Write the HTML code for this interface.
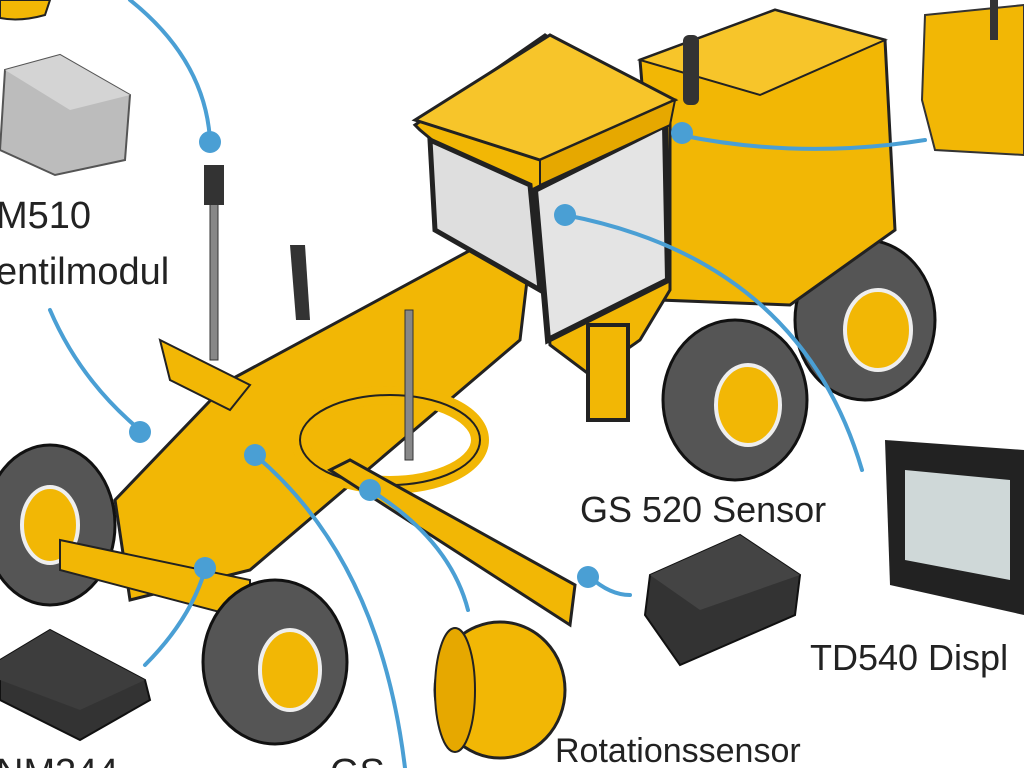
<!DOCTYPE html>
<html><head><meta charset="utf-8"><style>
html,body{margin:0;padding:0;background:#fff;width:1024px;height:768px;overflow:hidden}
svg{display:block}
text{font-family:"Liberation Sans","DejaVu Sans",sans-serif;fill:#222}
</style></head><body>
<svg width="1024" height="768" viewBox="0 0 1024 768" xmlns="http://www.w3.org/2000/svg">
<rect width="1024" height="768" fill="#fff"/>
<!-- top-left items -->
<path d="M0 0 H50 L45 15 Q20 22 0 18Z" fill="#f2b705" stroke="#222" stroke-width="2"/>
<path d="M5 70 L60 55 L130 95 L125 160 L55 175 L0 150Z" fill="#bcbcbc" stroke="#555" stroke-width="2"/>
<path d="M5 70 L60 55 L130 95 L70 110Z" fill="#d4d4d4"/>
<text x="-4" y="228" font-size="38">M510</text>
<text x="-4" y="284" font-size="38">entilmodul</text>
<!-- antenna -->
<rect x="210" y="170" width="8" height="190" fill="#888" stroke="#333"/>
<rect x="204" y="165" width="20" height="40" fill="#333"/>
<!-- rear wheels -->
<ellipse cx="865" cy="320" rx="70" ry="80" fill="#555" stroke="#111" stroke-width="3"/>
<ellipse cx="878" cy="330" rx="33" ry="40" fill="#f2b705" stroke="#eee" stroke-width="4"/>
<!-- engine box -->
<path d="M640 60 L775 10 L885 40 L895 230 L790 305 L660 300Z" fill="#f2b705" stroke="#222" stroke-width="3"/>
<path d="M640 60 L775 10 L885 40 L760 95Z" fill="#f7c52a" stroke="#222" stroke-width="2"/>
<rect x="683" y="35" width="16" height="70" rx="6" fill="#333"/>
<!-- front frame -->
<path d="M115 500 L130 600 L250 570 L520 340 L530 255 L480 245 L230 380 Z" fill="#f2b705" stroke="#222" stroke-width="3"/>
<path d="M160 340 L250 385 L230 410 L170 380Z" fill="#f2b705" stroke="#222" stroke-width="2"/>
<path d="M290 245 L305 245 L310 320 L296 320Z" fill="#333"/>
<!-- circle ring -->
<ellipse cx="390" cy="440" rx="90" ry="45" fill="none" stroke="#f2b705" stroke-width="18"/>
<ellipse cx="390" cy="440" rx="90" ry="45" fill="none" stroke="#222" stroke-width="2"/>
<rect x="405" y="310" width="8" height="150" fill="#888" stroke="#333"/>
<!-- blade -->
<path d="M330 470 L350 460 L575 585 L570 625 Z" fill="#f2b705" stroke="#222" stroke-width="3"/>
<!-- cab -->
<path d="M420 130 L540 230 L550 345 L590 375 L640 340 L670 290 L670 120 L545 35 L415 125Z" fill="#f2b705" stroke="#222" stroke-width="3"/>
<path d="M430 140 L530 185 L540 290 L435 230Z" fill="#dedede" stroke="#222" stroke-width="5"/>
<path d="M535 190 L665 125 L668 280 L548 340Z" fill="#e4e4e4" stroke="#222" stroke-width="6"/>
<path d="M415 120 L550 35 L675 100 L540 160Z" fill="#f7c52a" stroke="#222" stroke-width="3"/>
<path d="M540 160 L675 100 L670 125 L540 185Z" fill="#e6a800" stroke="#222" stroke-width="2"/>
<rect x="588" y="325" width="40" height="95" fill="#f2b705" stroke="#222" stroke-width="4"/>
<!-- rear mid wheel -->
<ellipse cx="735" cy="400" rx="72" ry="80" fill="#555" stroke="#111" stroke-width="3"/>
<ellipse cx="748" cy="405" rx="32" ry="40" fill="#f2b705" stroke="#eee" stroke-width="4"/>
<!-- front wheels -->
<ellipse cx="50" cy="525" rx="65" ry="80" fill="#555" stroke="#111" stroke-width="3"/>
<ellipse cx="50" cy="525" rx="28" ry="38" fill="#f2b705" stroke="#eee" stroke-width="4"/>
<path d="M60 540 L250 580 L250 620 L60 570Z" fill="#f2b705" stroke="#222" stroke-width="2"/>
<ellipse cx="275" cy="662" rx="72" ry="82" fill="#555" stroke="#111" stroke-width="3"/>
<ellipse cx="290" cy="670" rx="30" ry="40" fill="#f2b705" stroke="#eee" stroke-width="4"/>
<!-- top right receiver -->
<path d="M925 15 L1024 5 V155 L935 150 L922 100Z" fill="#f2b705" stroke="#333" stroke-width="2"/>
<rect x="990" y="0" width="8" height="40" fill="#333"/>
<!-- display -->
<path d="M885 440 L1024 450 V615 L890 585Z" fill="#222"/>
<path d="M905 470 L1010 480 V580 L905 560Z" fill="#cfd8d8"/>
<!-- sensor -->
<path d="M650 575 L740 535 L800 575 L795 615 L680 665 L645 615Z" fill="#333" stroke="#111" stroke-width="2"/>
<path d="M650 575 L740 535 L800 575 L700 610Z" fill="#444"/>
<text x="580" y="522" font-size="36">GS 520 Sensor</text>
<text x="810" y="670" font-size="36">TD540 Displ</text>
<!-- rotation sensor -->
<ellipse cx="500" cy="690" rx="65" ry="68" fill="#f2b705" stroke="#222" stroke-width="3"/>
<ellipse cx="455" cy="690" rx="20" ry="62" fill="#e6a800" stroke="#222" stroke-width="2"/>
<text x="555" y="762" font-size="34">Rotationssensor</text>
<!-- bottom left module -->
<path d="M0 660 L50 630 L145 680 L150 700 L80 740 L0 700Z" fill="#333" stroke="#111" stroke-width="2"/>
<path d="M0 660 L50 630 L145 680 L80 710 L0 680Z" fill="#3d3d3d"/>
<text x="-4" y="785" font-size="38">NM344</text>
<text x="330" y="785" font-size="38">GS</text>
<!-- connectors on top -->
<g fill="none" stroke="#4a9fd4" stroke-width="4" stroke-linecap="round">
<path d="M130 0 Q205 60 210 140"/>
<path d="M50 310 Q80 380 140 430"/>
<path d="M680 135 Q800 160 925 140"/>
<path d="M565 215 Q800 260 862 470"/>
<path d="M255 455 Q380 560 405 768"/>
<path d="M370 490 Q450 540 468 610"/>
<path d="M205 570 Q190 620 145 665"/>
<path d="M590 577 Q610 595 630 595"/>
</g>
<g fill="#4a9fd4">
<circle cx="210" cy="142" r="11"/><circle cx="140" cy="432" r="11"/>
<circle cx="682" cy="133" r="11"/><circle cx="565" cy="215" r="11"/>
<circle cx="255" cy="455" r="11"/><circle cx="370" cy="490" r="11"/>
<circle cx="205" cy="568" r="11"/><circle cx="588" cy="577" r="11"/>
</g>
</svg>
</body></html>
